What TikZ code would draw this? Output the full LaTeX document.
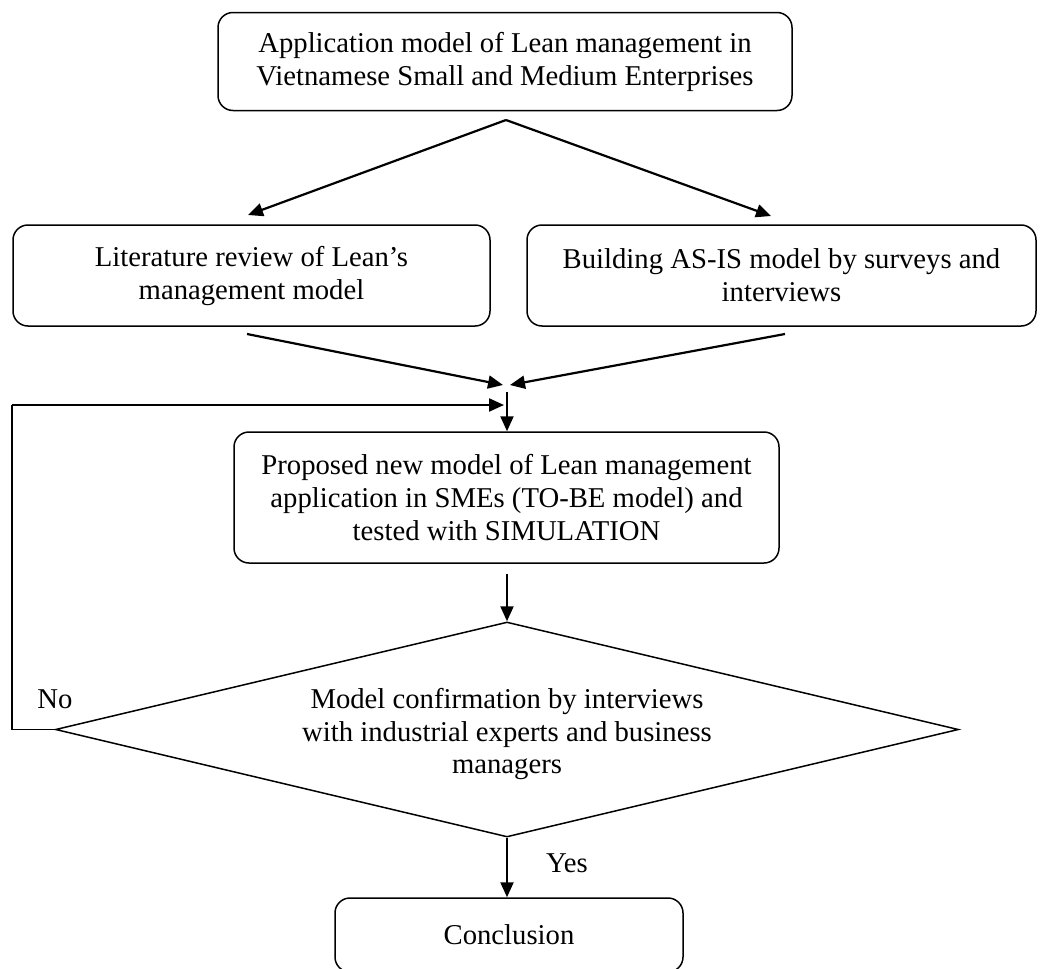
\documentclass[tikz,border=0pt]{standalone}
\usepackage{fontspec}
\setmainfont{Liberation Serif}
\usetikzlibrary{shapes.geometric,arrows.meta}
\begin{document}
\begin{tikzpicture}[x=1pt,y=-1pt,
  every node/.style={font=\fontsize{28.7}{33}\selectfont},
  procbox/.style={draw,line width=1.5pt,rounded corners=15pt,align=center,inner sep=0pt},
  decbox/.style={draw,line width=1.5pt,shape=diamond,aspect=4.2,align=center,inner sep=0pt,minimum width=903pt,minimum height=215pt},
  flow/.style={line width=2.2pt,-{Triangle[length=15pt,width=13pt]}},
  thinline/.style={line width=1.2pt}]
\useasboundingbox (0,0) rectangle (1058,969);
\node[procbox,minimum width=574pt,minimum height=98pt] (top) at (505,61.5)
  {Application model of Lean management in\\Vietnamese Small and Medium Enterprises};
\node[procbox,minimum width=477pt,minimum height=101pt] (lit) at (251.5,275.5)
  {Literature review of Lean’s\\management model};
\node[procbox,minimum width=509pt,minimum height=101pt] (asis) at (781.5,275.5)
  {Building AS-IS model by surveys and\\interviews};
\node[procbox,minimum width=545pt,minimum height=131pt] (tobe) at (506.5,497.5)
  {Proposed new model of Lean management\\application in SMEs (TO-BE model) and\\tested with SIMULATION};
\node[decbox] (conf) at (507,729.5) {};
\node[align=center,font=\fontsize{28.7}{32.5}\selectfont] (conftext) at (507,734)
  {Model confirmation by interviews\\with industrial experts and business\\managers};
\node[procbox,minimum width=348pt,minimum height=74pt] (concl) at (509,935) {Conclusion};
\node (no) at (55,699) {No};
\node (yes) at (567,863) {Yes};
% coordinates
\coordinate (split) at (506,120);
\coordinate (litin) at (248,215);
\coordinate (asisin) at (771,216);
\coordinate (litout) at (247,334);
\coordinate (asisout) at (785,334);
\coordinate (mergeL) at (503,385);
\coordinate (mergeR) at (510,385);
\coordinate (join) at (507,392);
\coordinate (fbin) at (504,405);
\coordinate (fbcorner) at (12,729.5);
\coordinate (tobeout) at (507,574);
% connectors
\draw[flow] (split) -- (litin);
\draw[flow] (split) -- (asisin);
\draw[flow] (litout) -- (mergeL);
\draw[flow] (asisout) -- (mergeR);
\draw[flow] (join) -- (join |- tobe.north);
\draw[flow] (tobeout) -- (conf.north);
\draw[flow] (conf.south) -- (conf.south |- concl.north);
\draw[thinline] (conf.west) -- (fbcorner) -- (fbcorner |- fbin);
\draw[flow] (fbcorner |- fbin) -- (fbin);
\end{tikzpicture}
\end{document}
